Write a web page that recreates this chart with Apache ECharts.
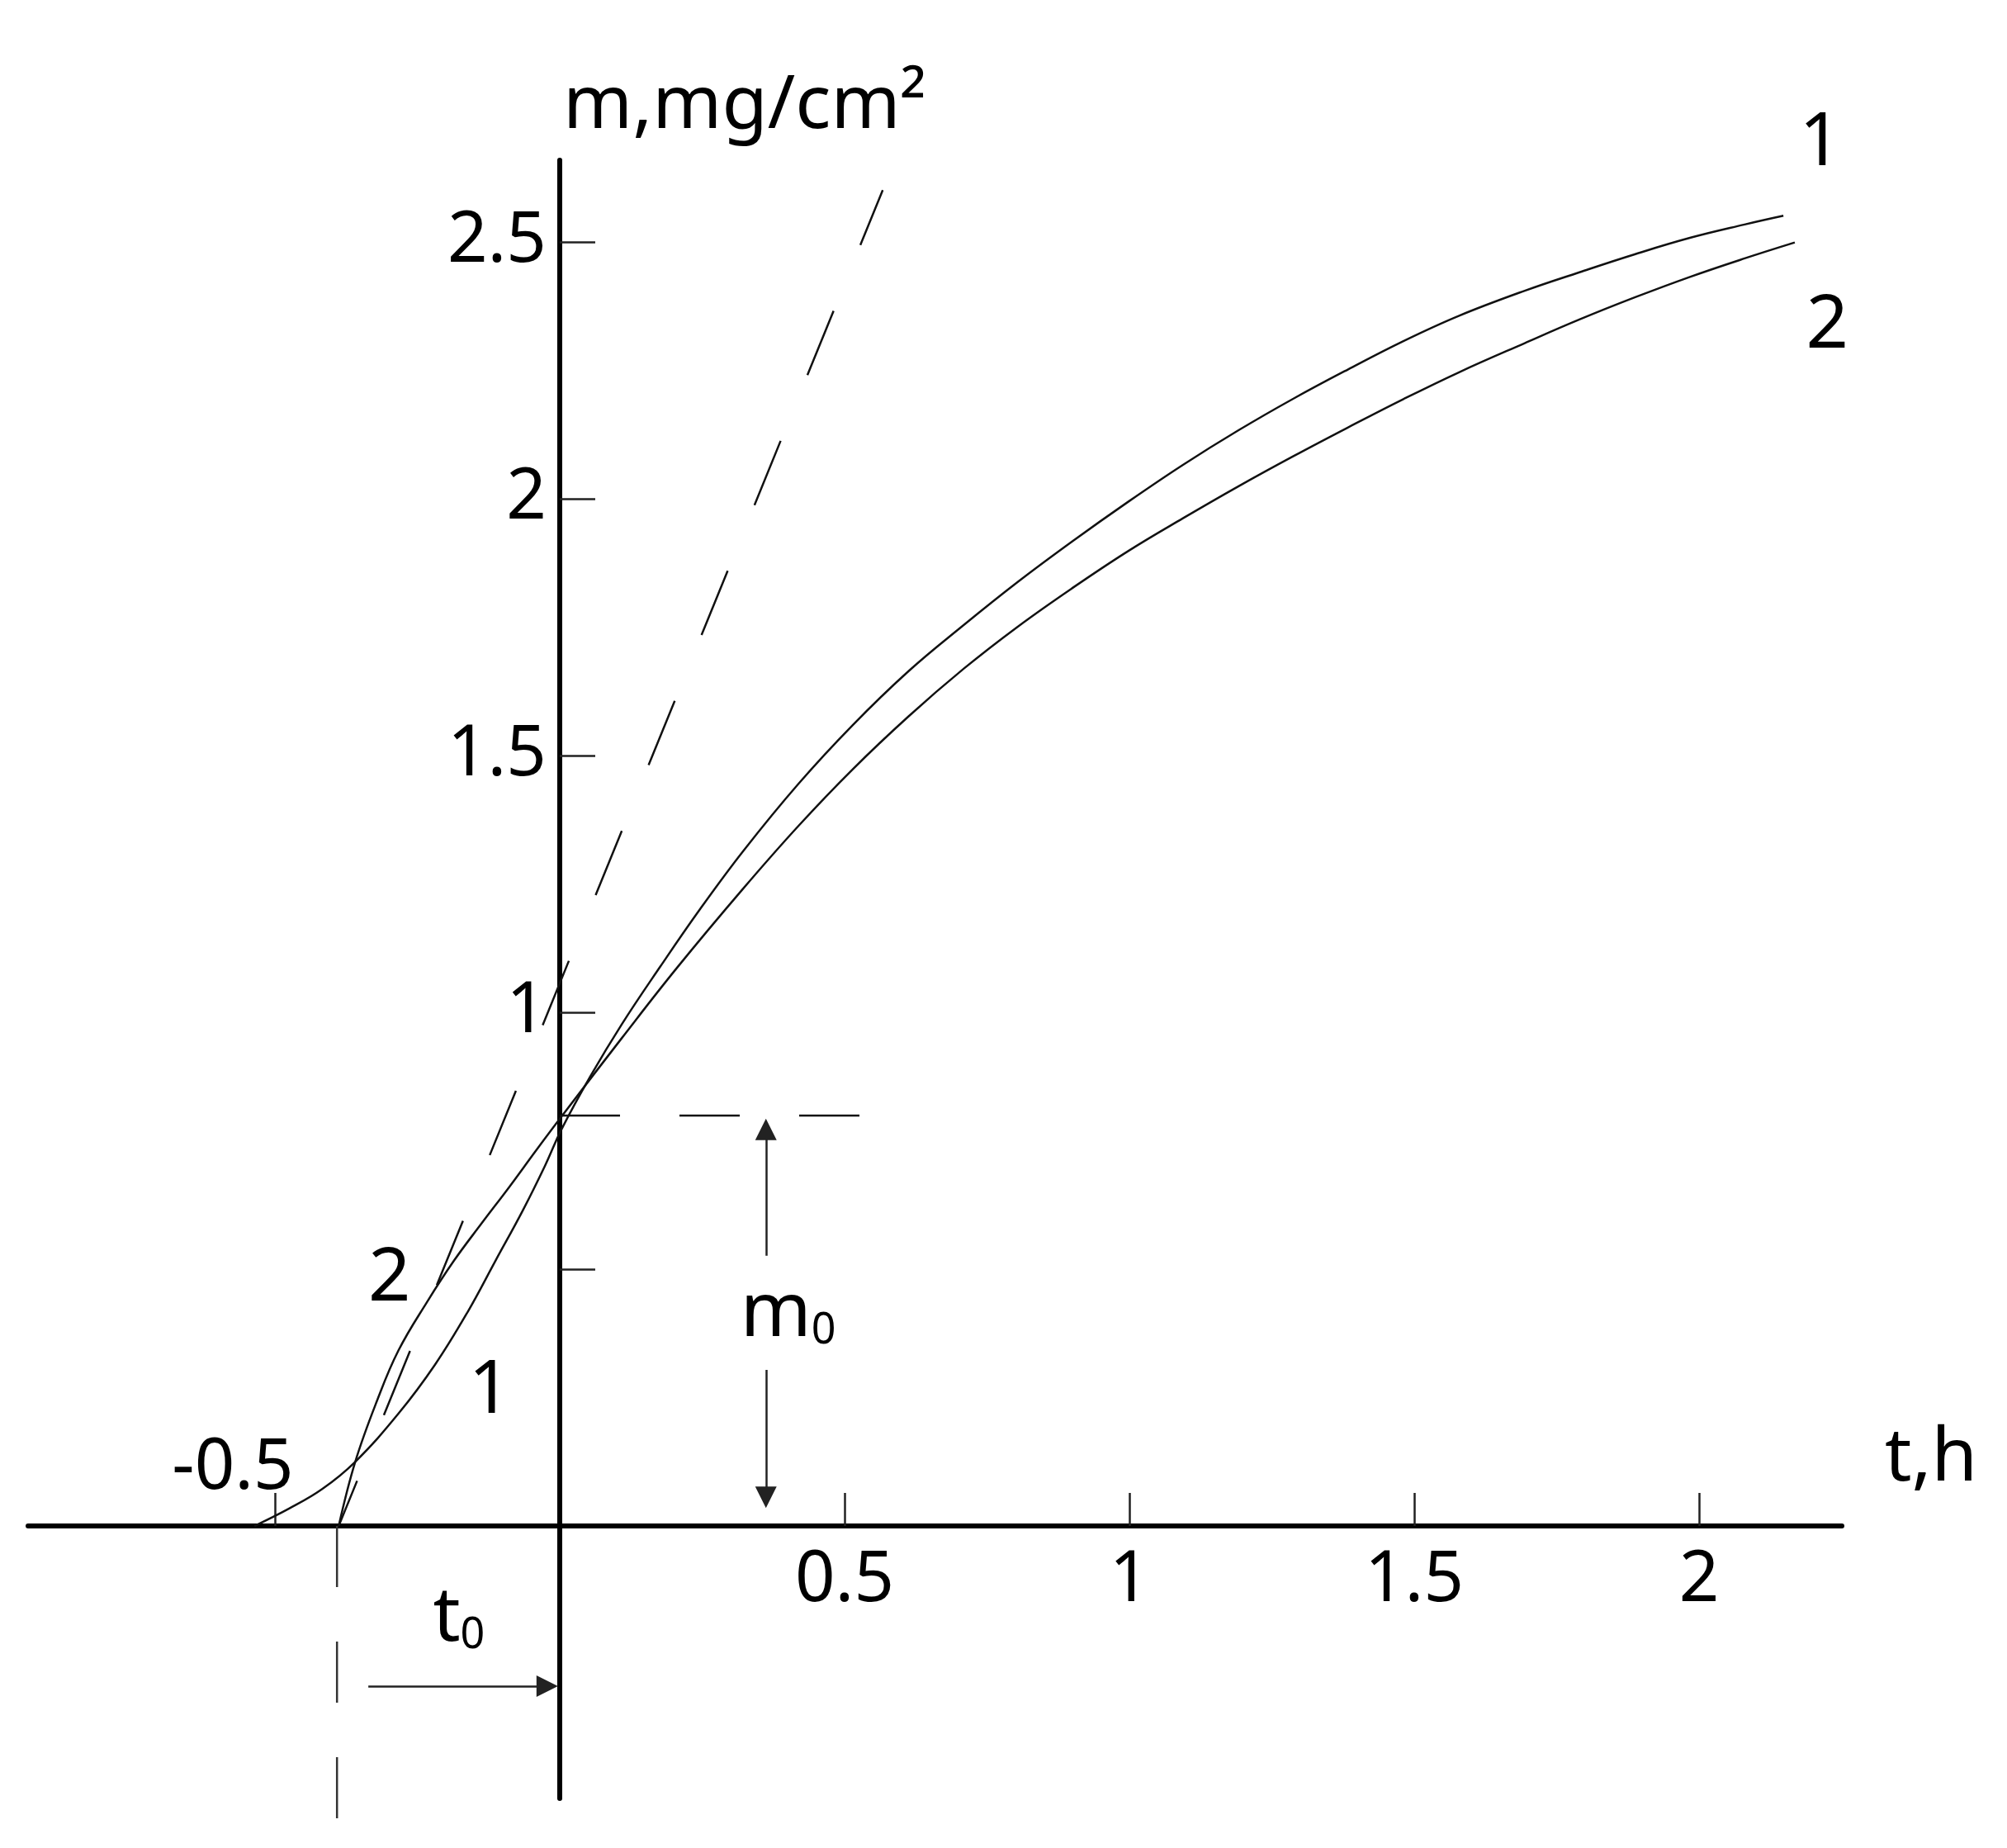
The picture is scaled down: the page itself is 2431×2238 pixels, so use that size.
<!DOCTYPE html>
<html>
<head>
<meta charset="utf-8">
<title>m(t) curves</title>
<script src="https://cdn.jsdelivr.net/npm/echarts@6/dist/echarts.min.js"></script>
<style>
  html, body { margin: 0; padding: 0; background: #fff; }
  #chart { width: 2431px; height: 2238px; }
</style>
</head>
<body>
<div id="chart"></div>
<script>
// ---- data (t in h, m in mg/cm2) ----
var curve1T = [-0.536, -0.475, -0.417, -0.359, -0.283, -0.219, -0.161, -0.113, -0.065, -0.026, 0.003,
  0.054, 0.109, 0.177, 0.245, 0.322, 0.419, 0.514, 0.612, 0.709, 0.804, 0.901, 0.999,
  1.094, 1.191, 1.288, 1.384, 1.481, 1.578, 1.694, 1.790, 1.887, 1.984, 2.080, 2.148];
var curve1M = [0, 0.034, 0.072, 0.125, 0.219, 0.314, 0.418, 0.516, 0.614, 0.701, 0.772,
  0.876, 0.977, 1.090, 1.199, 1.314, 1.445, 1.559, 1.664, 1.754, 1.838, 1.918, 1.995,
  2.066, 2.133, 2.195, 2.252, 2.307, 2.356, 2.405, 2.441, 2.476, 2.508, 2.534, 2.551];

var curve2T = [-0.388, -0.359, -0.320, -0.283, -0.233, -0.186, -0.138, -0.088, -0.041, 0.003,
  0.109, 0.206, 0.322, 0.419, 0.514, 0.612, 0.709, 0.804, 0.901, 0.999,
  1.094, 1.191, 1.288, 1.384, 1.481, 1.578, 1.694, 1.790, 1.887, 1.984, 2.080, 2.168];
var curve2M = [0, 0.125, 0.246, 0.342, 0.436, 0.516, 0.588, 0.661, 0.732, 0.797,
  0.950, 1.087, 1.241, 1.363, 1.473, 1.576, 1.669, 1.751, 1.827, 1.899,
  1.962, 2.024, 2.083, 2.139, 2.194, 2.246, 2.303, 2.349, 2.392, 2.432, 2.468, 2.499];

// construction lines
var t0 = -0.391;
var m0 = 0.799;
var tangentT = [-0.388, 0.567];
var tangentM = [0, 2.601];

// ticks / labels
var xTicks = [-0.5, 0.5, 1, 1.5, 2];
var xLabels = [0.5, 1, 1.5, 2];
var xLabelsUp = [-0.5];
var yTicks = [0.5, 1, 1.5, 2, 2.5];
var yLabels = [1, 1.5, 2, 2.5];

// ---- helpers ----
function pairs(xs, ys) {
  var out = [];
  for (var i = 0; i < xs.length; i++) out.push([xs[i], ys[i]]);
  return out;
}

var FONT = 'Noto Sans';
var INK = '#000';

// axis extents (chosen so that t=0 / m=0 fall on the drawn axes)
var X_MIN = -0.9333, X_MAX = 2.2507;
var Y_MIN = -0.5305, Y_MAX = 2.6592;
var GRID = { left: 34, right: 200, top: 194, bottom: 60 };
// move the axes from the grid edges onto t=0 / m=0
var xShift = -(2238 - GRID.bottom - GRID.top) * (0 - Y_MIN) / (Y_MAX - Y_MIN);
var xShiftTop = -(2238 - GRID.bottom - GRID.top) * (Y_MAX - 0) / (Y_MAX - Y_MIN);
var yShift = -(2431 - GRID.left - GRID.right) * (0 - X_MIN) / (X_MAX - X_MIN);

var subRich = {
  b: { fontSize: 92, fontFamily: FONT, color: INK, lineHeight: 92 },
  s: { fontSize: 52, fontFamily: FONT, color: INK, lineHeight: 40, verticalAlign: 'bottom' }
};

// text annotations (curve numbers, m0, t0)
var notes = [
  { text: '2', t: -0.299, m: 0.48 },
  { text: '1', t: -0.123, m: 0.262 },
  { text: '1', t: 2.213, m: 2.69 },
  { text: '2', t: 2.225, m: 2.336 },
  { text: '{b|m}{s|0}', t: 0.401, m: 0.412 },
  { text: '{b|t}{s|0}', t: -0.177, m: -0.182 }
];

var chart = echarts.init(document.getElementById('chart'));

var option = {
  backgroundColor: '#fff',
  animation: false,
  grid: { left: GRID.left, right: GRID.right, top: GRID.top, bottom: GRID.bottom, containLabel: false, outerBoundsMode: 'none' },
  xAxis: [{
    type: 'value', min: X_MIN, max: X_MAX, position: 'bottom', offset: xShift,
    axisLine: { onZero: false, lineStyle: { color: INK, width: 6 } },
    axisTick: { inside: true, length: 40, customValues: xTicks, lineStyle: { color: '#222', width: 2.5 } },
    axisLabel: { customValues: xLabels, margin: 24, fontSize: 85, fontFamily: FONT, color: INK },
    splitLine: { show: false },
    name: 't,h', nameLocation: 'end', nameGap: 52,
    nameTextStyle: { fontSize: 90, fontFamily: FONT, color: INK, verticalAlign: 'bottom', padding: [0, 0, 36, 0] }
  }, {
    // only carries the "-0.5" label above the axis
    type: 'value', min: X_MIN, max: X_MAX, position: 'top', offset: xShiftTop,
    axisLine: { show: false, onZero: false },
    axisTick: { show: false },
    axisLabel: { customValues: xLabelsUp, margin: 27, fontSize: 85, fontFamily: FONT, color: INK, padding: [0, 102, 0, 0] },
    splitLine: { show: false }
  }],
  yAxis: {
    type: 'value', min: Y_MIN, max: Y_MAX, position: 'left', offset: yShift,
    axisLine: { onZero: false, lineStyle: { color: INK, width: 6 } },
    axisTick: { inside: true, length: 43, customValues: yTicks, lineStyle: { color: '#222', width: 2.5 } },
    axisLabel: { customValues: yLabels, margin: 16, fontSize: 85, fontFamily: FONT, color: INK },
    splitLine: { show: false },
    name: 'm,mg/cm²', nameLocation: 'end', nameGap: 20,
    nameTextStyle: { fontSize: 90, fontFamily: FONT, color: INK, align: 'left', verticalAlign: 'bottom', padding: [0, 0, 0, 4] }
  },
  series: [
    {
      name: '1', type: 'line', data: pairs(curve1T, curve1M), smooth: 0.4,
      showSymbol: false, lineStyle: { color: '#111', width: 2.5 }
    },
    {
      name: '2', type: 'line', data: pairs(curve2T, curve2M), smooth: 0.4,
      showSymbol: false, lineStyle: { color: '#111', width: 2.5 }
    },
    {
      // linear-stage tangent from t0
      type: 'line', data: pairs(tangentT, tangentM), showSymbol: false,
      lineStyle: { color: '#111', width: 2.5, type: [84, 86], dashOffset: 25 }
    },
    {
      type: 'line', data: [[0, m0], [0.53, m0]], showSymbol: false,
      lineStyle: { color: '#111', width: 2.5, type: [73, 72] }
    },
    {
      type: 'line', data: [[t0, 0], [t0, -0.571]], showSymbol: false, clip: false,
      lineStyle: { color: '#333', width: 2.5, type: [74, 66] }
    },
    {
      // arrows for m0 and t0
      type: 'lines', coordinateSystem: 'cartesian2d', silent: true,
      symbol: ['none', 'triangle'], symbolSize: 26,
      lineStyle: { color: '#222', width: 2.5, opacity: 1 },
      data: [
        { coords: [[0.362, 0.526], [0.362, 0.772]] },
        { coords: [[0.362, 0.304], [0.362, 0.056]] },
        { coords: [[-0.336, -0.312], [-0.022, -0.312]] }
      ]
    },
    {
      // scatter symbols default to 0.8 opacity, which the labels inherit
      type: 'scatter', silent: true, clip: false,
      symbol: 'circle', symbolSize: 1, itemStyle: { color: 'rgba(0,0,0,0)', opacity: 1 },
      label: {
        show: true, position: [0.5, 0.5], align: 'center', verticalAlign: 'middle', opacity: 1,
        fontSize: 90, fontFamily: FONT, color: INK,
        formatter: function (p) { return p.data.text; }, rich: subRich
      },
      data: notes.map(function (n) { return { value: [n.t, n.m], text: n.text }; })
    }
  ]
};

chart.setOption(option);
</script>
</body>
</html>
